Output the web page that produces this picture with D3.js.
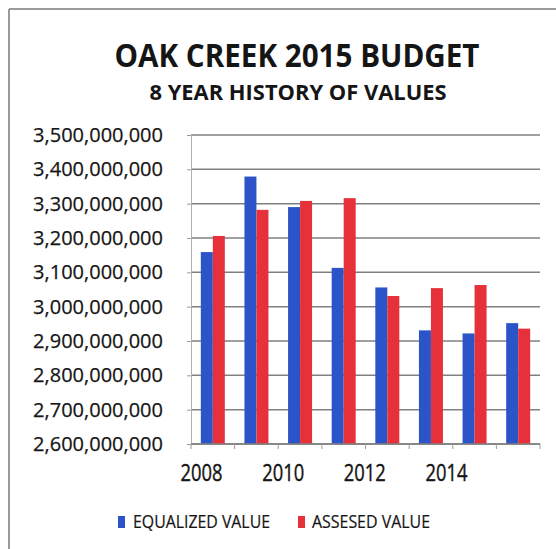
<!DOCTYPE html>
<html>
<head>
<meta charset="utf-8">
<script src="https://cdn.jsdelivr.net/npm/d3@7"></script>
<style>
  html, body { margin: 0; padding: 0; background: #fff; }
  svg { display: block; }
  text { font-family: "Open Sans", "DejaVu Sans", sans-serif; fill: #151515; }
</style>
</head>
<body>
<svg id="chart" width="556" height="549"></svg>
<script>
// Oak Creek assessed and equalized property values, 2008–2015
const years = [2008, 2009, 2010, 2011, 2012, 2013, 2014, 2015];
const equalizedValue = [3159000000, 3379000000, 3290000000, 3113000000, 3056000000, 2931000000, 2922000000, 2952000000];
const assessedValue  = [3206000000, 3282000000, 3308000000, 3316000000, 3031000000, 3054000000, 3063000000, 2936000000];
const seriesNames = ["EQUALIZED VALUE", "ASSESED VALUE"];
const yTicks = [2600000000, 2700000000, 2800000000, 2900000000, 3000000000, 3100000000, 3200000000, 3300000000, 3400000000, 3500000000];
const xLabelYears = [2008, 2010, 2012, 2014];

const colors = ["#2c54c9", "#e6313b"];
const svg = d3.select("#chart");

// frame lines along the top and left edge
svg.append("line").attr("x1", 9).attr("x2", 556).attr("y1", 9).attr("y2", 9)
  .attr("stroke", "#9a9a9a").attr("stroke-width", 2);
svg.append("line").attr("x1", 9).attr("x2", 9).attr("y1", 9).attr("y2", 549)
  .attr("stroke", "#9a9a9a").attr("stroke-width", 2);

// titles
svg.append("text").attr("x", 297).attr("y", 67).attr("text-anchor", "middle")
  .attr("font-size", 33).attr("font-weight", 700)
  .attr("textLength", 365).attr("lengthAdjust", "spacingAndGlyphs")
  .text("OAK CREEK 2015 BUDGET");
svg.append("text").attr("x", 298).attr("y", 100).attr("text-anchor", "middle")
  .attr("font-size", 21).attr("font-weight", 700)
  .attr("textLength", 297).attr("lengthAdjust", "spacingAndGlyphs")
  .text("8 YEAR HISTORY OF VALUES");

const plot = { left: 191, right: 540, top: 135, bottom: 444 };

const y = d3.scaleLinear().domain([2600000000, 3500000000]).range([plot.bottom, plot.top]);
const x0 = d3.scaleBand().domain(years).range([plot.left, plot.right]).padding(0);
const x1 = d3.scaleBand().domain([0, 1]).range([0, 24]);
const pairOffset = (x0.bandwidth() - 24) / 2;

// horizontal gridlines
svg.append("g").selectAll("line").data(yTicks).join("line")
  .attr("x1", plot.left).attr("x2", plot.right)
  .attr("y1", d => y(d)).attr("y2", d => y(d))
  .attr("stroke", "#808080").attr("stroke-width", 1.5);

// y axis with labels
const yAxis = svg.append("g").attr("transform", `translate(${plot.left},0)`)
  .call(d3.axisLeft(y).tickValues(yTicks).tickSize(4).tickPadding(24)
    .tickFormat(d3.format(",")));
yAxis.select(".domain").attr("stroke", "#b0b0b0");
yAxis.selectAll(".tick line").attr("stroke", "#9a9a9a");
yAxis.selectAll(".tick text").attr("font-size", 20).attr("fill", "#151515")
  .attr("stroke", "#151515").attr("stroke-width", 0.25)
  .attr("font-family", "'Open Sans', sans-serif");

// bars
const rows = years.map((yr, i) => ({ year: yr, values: [equalizedValue[i], assessedValue[i]] }));
svg.append("g").selectAll("g").data(rows).join("g")
  .attr("transform", d => `translate(${x0(d.year) + pairOffset},0)`)
  .selectAll("rect").data(d => d.values.map((v, k) => ({ k, v }))).join("rect")
  .attr("x", d => x1(d.k))
  .attr("width", x1.bandwidth())
  .attr("y", d => y(d.v))
  .attr("height", d => y(2600000000) - y(d.v))
  .attr("fill", d => colors[d.k]);

// x axis line and category tick marks
const xAxis = svg.append("g").attr("transform", `translate(0,${plot.bottom})`);
xAxis.append("line").attr("x1", plot.left).attr("x2", plot.right)
  .attr("stroke", "#808080").attr("stroke-width", 1.5);
xAxis.selectAll("line.tk").data(years.concat([null])).join("line").attr("class", "tk")
  .attr("x1", d => d === null ? plot.right : x0(d)).attr("x2", d => d === null ? plot.right : x0(d))
  .attr("y1", 0).attr("y2", 5).attr("stroke", "#9a9a9a");

// year labels
const xLab = d3.scaleLinear().domain([2008, 2014]).range([201, 446]);
const xl = svg.append("g").attr("transform", `translate(0,${plot.bottom})`)
  .call(d3.axisBottom(xLab).tickValues(xLabelYears).tickSize(0).tickPadding(21).tickFormat(d3.format("d")));
xl.select(".domain").remove();
xl.selectAll(".tick text").attr("font-size", 23).attr("fill", "#151515")
  .attr("stroke", "#151515").attr("stroke-width", 0.4)
  .attr("font-family", "'Open Sans', sans-serif")
  .attr("textLength", 42).attr("lengthAdjust", "spacingAndGlyphs");

// legend
const legend = svg.append("g");
const legendItems = [{ x: 118, tx: 133, w: 137 }, { x: 298, tx: 312, w: 118 }];
legend.selectAll("rect").data(seriesNames).join("rect")
  .attr("x", (d, i) => legendItems[i].x).attr("y", 516).attr("width", 7).attr("height", 12)
  .attr("fill", (d, i) => colors[i]);
legend.selectAll("text").data(seriesNames).join("text")
  .attr("x", (d, i) => legendItems[i].tx).attr("y", 528)
  .attr("font-size", 18).attr("stroke", "#151515").attr("stroke-width", 0.2)
  .attr("textLength", (d, i) => legendItems[i].w).attr("lengthAdjust", "spacingAndGlyphs")
  .text(d => d);
</script>
</body>
</html>
